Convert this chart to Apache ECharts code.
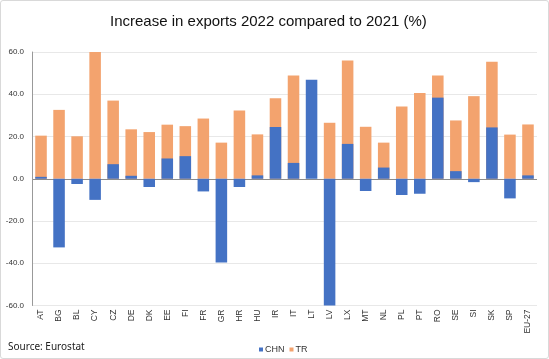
<!DOCTYPE html>
<html><head><meta charset="utf-8">
<script src="https://cdn.jsdelivr.net/npm/echarts@6/dist/echarts.min.js"></script>
<style>html,body{margin:0;padding:0;background:#fff}#c{width:549px;height:359px;box-sizing:border-box;border:1px solid #d9d9d9;border-radius:3px}</style>
</head><body><div id="c"></div>
<script>
var categories = ['AT','BG','BL','CY','CZ','DE','DK','EE','FI','FR','GR','HR','HU','IR','IT','LT','LV','LX','MT','NL','PL','PT','RO','SE','SI','SK','SP','EU-27'];
var chn = [0.9,-32.5,-2.5,-10.0,6.9,1.4,-3.9,9.6,10.7,-6.0,-39.7,-3.9,1.6,24.5,7.5,46.9,-60,16.5,-5.8,5.3,-7.7,-7.1,38.4,3.6,-1.6,24.3,-9.3,1.6];
var tr = [20.4,32.6,20.1,60,37.0,23.4,22.1,25.6,24.9,28.5,17.1,32.3,21.0,38.1,48.9,0,26.5,56.0,24.6,17.1,34.2,40.6,48.9,27.6,39.1,55.4,20.9,25.7];
var yTicks = [-60,-40,-20,0,20,40,60];
var chart = echarts.init(document.getElementById('c'), null, {renderer:'canvas'});
chart.setOption({
  animation:false,
  title:{text:'Increase in exports 2022 compared to 2021 (%)',left:104,top:8,textStyle:{fontFamily:'Liberation Sans',fontSize:15,fontWeight:'normal',color:'#111'}},
  graphic:[{type:'text',left:7,top:341,style:{text:'Source: Eurostat',font:'10px Noto Sans',fill:'#222'}}],
  legend:{data:['CHN','TR'],top:339,left:253,itemWidth:4,itemHeight:4,itemGap:5,icon:'rect',textStyle:{fontFamily:'Liberation Sans',fontSize:9,color:'#333',padding:[0,0,0,-3]}},
  grid:{left:31,right:11,top:51,bottom:52.5,containLabel:false},
  xAxis:{type:'category',data:categories,axisLine:{show:false},axisTick:{show:false},
    axisLabel:{rotate:90,fontFamily:'Liberation Sans',fontSize:8.5,color:'#333',margin:4,interval:0}},
  yAxis:{type:'value',min:-60,max:60,interval:20,
    axisLine:{show:true,lineStyle:{color:'#999',width:1}},axisTick:{show:false},
    axisLabel:{formatter:function(v){return v.toFixed(1);},fontFamily:'Liberation Sans',fontSize:8,color:'#333',margin:8},
    splitLine:{show:true,lineStyle:{color:['#e8e8e8','#e8e8e8','#e8e8e8','#8c8c8c','#e8e8e8','#e8e8e8','#e8e8e8'],width:1}}},
  series:[
    {name:'CHN',type:'bar',data:chn,barWidth:'64%',barGap:'-100%',z:3,itemStyle:{color:'#4472C4'}},
    {name:'TR',type:'bar',data:tr,barWidth:'64%',barGap:'-100%',z:2,itemStyle:{color:'#F3A36E'}}
  ]
});
</script></body></html>
